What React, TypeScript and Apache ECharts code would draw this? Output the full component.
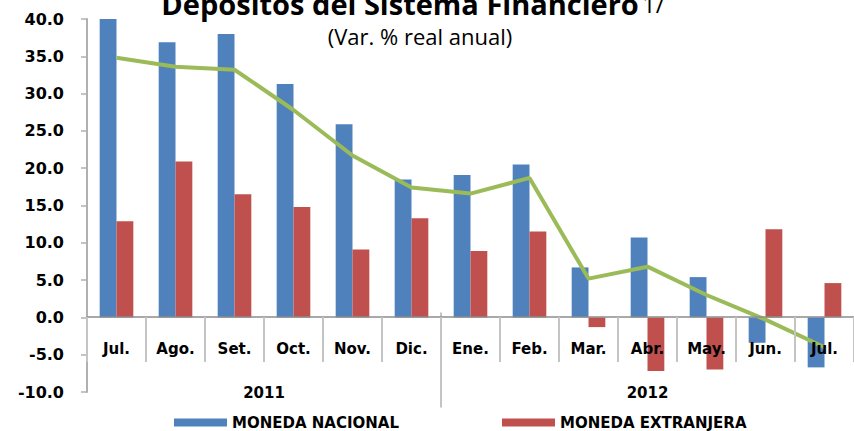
import React, { useEffect, useRef } from "react";
import * as echarts from "echarts";

const months = ["Jul.", "Ago.", "Set.", "Oct.", "Nov.", "Dic.", "Ene.", "Feb.", "Mar.", "Abr.", "May.", "Jun.", "Jul."];
const years = ["2011", "2012"];
const monedaNacional = [40.0, 36.9, 38.0, 31.3, 25.9, 18.5, 19.1, 20.5, 6.7, 10.7, 5.4, -3.4, -6.7];
const monedaExtranjera = [12.9, 20.9, 16.5, 14.8, 9.1, 13.3, 8.9, 11.5, -1.3, -7.2, -7.0, 11.8, 4.6];
const total = [34.8, 33.6, 33.2, 27.8, 21.7, 17.4, 16.6, 18.7, 5.2, 6.8, 3.0, -0.3, -4.0];
const yTicks = { min: -10, max: 40, interval: 5 };

const FONT = "DejaVu Sans";

export default function App() {
  const ref = useRef<HTMLDivElement>(null);
  useEffect(() => {
    if (!ref.current) return;
    const chart = echarts.init(ref.current, undefined, { renderer: "svg" });
    chart.setOption({
      animation: false,
      backgroundColor: "#ffffff",
      grid: { left: 87, top: 19, width: 775, bottom: 39, containLabel: false },
      legend: [
        {
          data: ["MONEDA NACIONAL"],
          left: 169,
          top: 410,
          itemWidth: 53,
          itemHeight: 8,
          icon: "rect",
          textStyle: { fontFamily: FONT, fontWeight: "bold", fontSize: 15, color: "#000" },
        },
        {
          data: ["MONEDA EXTRANJERA"],
          left: 497,
          top: 410,
          itemWidth: 53,
          itemHeight: 8,
          icon: "rect",
          textStyle: { fontFamily: FONT, fontWeight: "bold", fontSize: 15, color: "#000" },
        },
      ],
      xAxis: {
        type: "category",
        data: months,
        offset: -75,
        z: 10,
        axisLine: { onZero: false, lineStyle: { color: "#8c8c8c", width: 1.5 } },
        axisTick: { show: true, interval: 0, length: 45, lineStyle: { color: "#c4c4c4", width: 2 } },
        axisLabel: {
          interval: 0,
          margin: 24,
          fontFamily: FONT,
          fontWeight: "bold",
          fontSize: 15,
          color: "#000",
        },
        splitLine: { show: false },
      },
      yAxis: {
        type: "value",
        min: yTicks.min,
        max: yTicks.max,
        interval: yTicks.interval,
        axisLine: { show: true, lineStyle: { color: "#b0b0b0", width: 2 } },
        axisTick: { show: true, length: 6, lineStyle: { color: "#b0b0b0", width: 1.5 } },
        axisLabel: {
          margin: 23,
          fontFamily: FONT,
          fontWeight: "bold",
          fontSize: 16,
          color: "#000",
          formatter: (v: number) => v.toFixed(1),
        },
        splitLine: { show: false },
      },
      series: [
        {
          name: "MONEDA NACIONAL",
          type: "bar",
          data: monedaNacional,
          barGap: "0%",
          barCategoryGap: "43%",
          itemStyle: { color: "#4F81BD" },
        },
        {
          name: "MONEDA EXTRANJERA",
          type: "bar",
          data: monedaExtranjera,
          barGap: "0%",
          barCategoryGap: "43%",
          itemStyle: { color: "#C0504D" },
        },
        {
          name: "TOTAL",
          type: "line",
          data: total,
          showSymbol: false,
          symbol: "none",
          z: 5,
          lineStyle: { color: "#9BBB59", width: 4 },
        },
      ],
    });

    const px = (i: number) => chart.convertToPixel({ xAxisIndex: 0 }, i) as number;
    const y0 = chart.convertToPixel({ yAxisIndex: 0 }, 0) as number;
    const sepX = (px(5) + px(6)) / 2;
    const y2011 = (px(2) + px(3)) / 2;
    const y2012 = px(9);
    chart.setOption({
      graphic: [
        {
          type: "text",
          x: 413,
          y: 3,
          style: {
            text: "{b|Depósitos del Sistema Financiero} {n|1/}",
            align: "center",
            verticalAlign: "middle",
            rich: {
              b: { fontFamily: "Open Sans", fontWeight: "bold", fontSize: 29, fill: "#000" },
              n: { fontFamily: "Open Sans", fontWeight: "normal", fontSize: 24, fill: "#000" },
            },
          },
        },
        {
          type: "text",
          x: 420,
          y: 36,
          style: {
            text: "(Var. % real anual)",
            align: "center",
            verticalAlign: "middle",
            fontFamily: "Open Sans",
            fontSize: 22,
            fill: "#000",
          },
        },
        {
          type: "line",
          shape: { x1: sepX, y1: y0 - 5, x2: sepX, y2: y0 + 90 },
          style: { stroke: "#c4c4c4", lineWidth: 2 },
        },
        {
          type: "text",
          x: y2011,
          y: y0 + 76,
          style: {
            text: years[0],
            align: "center",
            verticalAlign: "middle",
            fontFamily: FONT,
            fontWeight: "bold",
            fontSize: 15,
            fill: "#000",
          },
        },
        {
          type: "text",
          x: y2012,
          y: y0 + 76,
          style: {
            text: years[1],
            align: "center",
            verticalAlign: "middle",
            fontFamily: FONT,
            fontWeight: "bold",
            fontSize: 15,
            fill: "#000",
          },
        },
      ],
    });
    return () => chart.dispose();
  }, []);
  return <div ref={ref} style={{ width: 854, height: 431, position: "absolute", left: 0, top: 0 }} />;
}
